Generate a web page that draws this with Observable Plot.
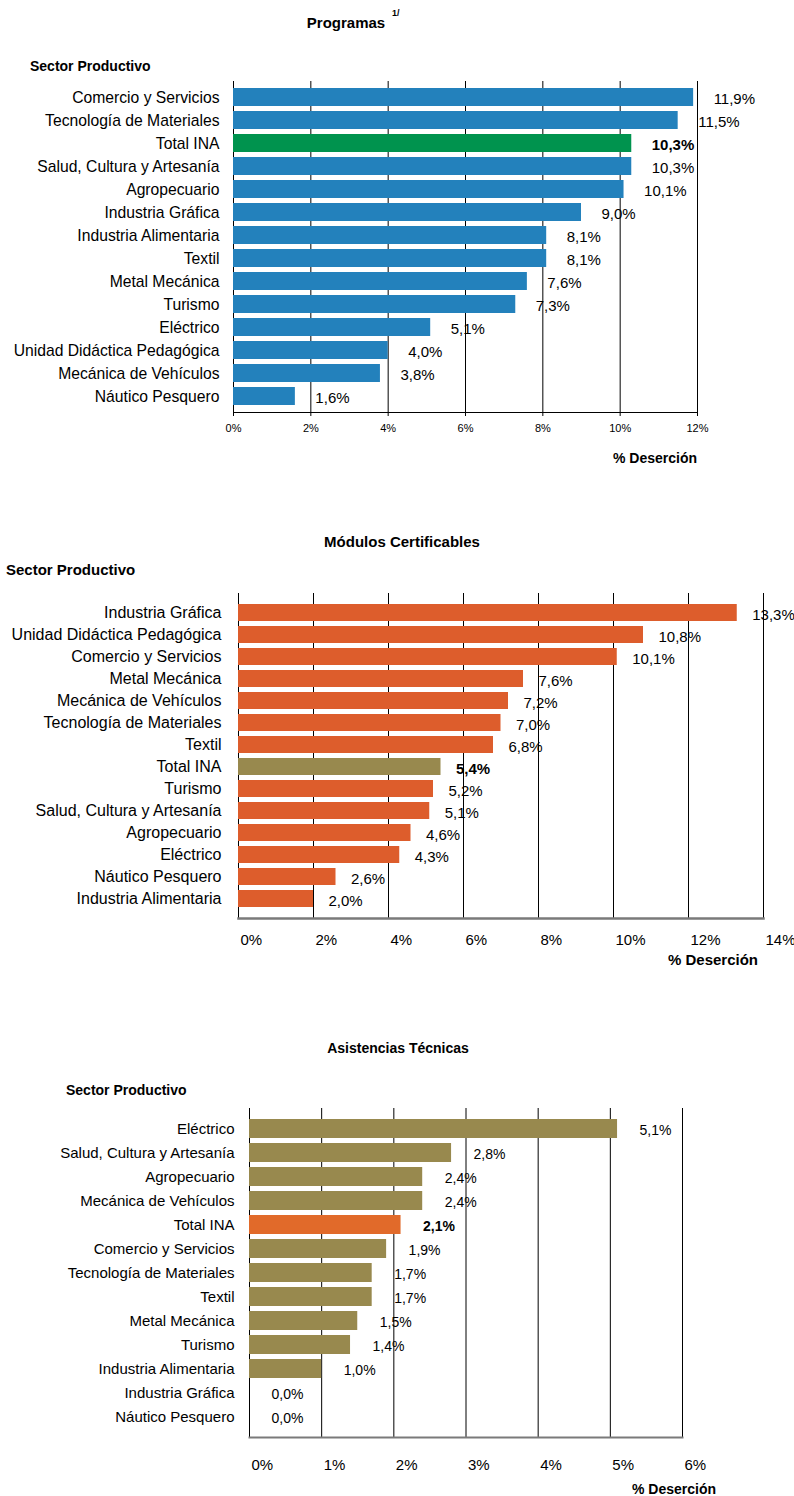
<!DOCTYPE html>
<html>
<head>
<meta charset="utf-8">
<script src="https://cdn.jsdelivr.net/npm/d3@7"></script>
<script src="https://cdn.jsdelivr.net/npm/@observablehq/plot@0.6"></script>
<style>
  html, body { margin: 0; padding: 0; background: #ffffff; }
  #page { position: relative; width: 794px; height: 1496px; font-family: "Liberation Sans", Arial, Helvetica, sans-serif; color: #000; }
  .t { position: absolute; white-space: nowrap; font-weight: bold; line-height: 1; }
  .c { transform: translateX(-50%); }
  .r { transform: translateX(-100%); }
  .chart { position: absolute; left: 0; }
  .chart svg { overflow: visible; }
</style>
</head>
<body>
<div id="page"></div>
<script>
// ---------- DATA ----------
const progCats = ["Comercio y Servicios", "Tecnología de Materiales", "Total INA", "Salud, Cultura y Artesanía", "Agropecuario", "Industria Gráfica", "Industria Alimentaria", "Textil", "Metal Mecánica", "Turismo", "Eléctrico", "Unidad Didáctica Pedagógica", "Mecánica de Vehículos", "Náutico Pesquero"];
const progValues = [11.9, 11.5, 10.3, 10.3, 10.1, 9.0, 8.1, 8.1, 7.6, 7.3, 5.1, 4.0, 3.8, 1.6];
const progTicks = [0, 2, 4, 6, 8, 10, 12];

const modCats = ["Industria Gráfica", "Unidad Didáctica Pedagógica", "Comercio y Servicios", "Metal Mecánica", "Mecánica de Vehículos", "Tecnología de Materiales", "Textil", "Total INA", "Turismo", "Salud, Cultura y Artesanía", "Agropecuario", "Eléctrico", "Náutico Pesquero", "Industria Alimentaria"];
const modValues = [13.3, 10.8, 10.1, 7.6, 7.2, 7.0, 6.8, 5.4, 5.2, 5.1, 4.6, 4.3, 2.6, 2.0];
const modTicks = [0, 2, 4, 6, 8, 10, 12, 14];

const asisCats = ["Eléctrico", "Salud, Cultura y Artesanía", "Agropecuario", "Mecánica de Vehículos", "Total INA", "Comercio y Servicios", "Tecnología de Materiales", "Textil", "Metal Mecánica", "Turismo", "Industria Alimentaria", "Industria Gráfica", "Náutico Pesquero"];
const asisValues = [5.1, 2.8, 2.4, 2.4, 2.1, 1.9, 1.7, 1.7, 1.5, 1.4, 1.0, 0.0, 0.0];
const asisTicks = [0, 1, 2, 3, 4, 5, 6];

const totalName = "Total INA";
// ---------- RENDER ----------
const page = document.getElementById("page");
const FONT = '"Liberation Sans", Arial, Helvetica, sans-serif';
const fmt = v => v.toFixed(1).replace(".", ",") + "%";

function addText(txt, x, y, size, cls) {
  const d = document.createElement("div");
  d.className = "t " + (cls || "");
  d.textContent = txt;
  d.style.left = x + "px";
  d.style.top = (y - size / 2) + "px";
  d.style.fontSize = size + "px";
  page.appendChild(d);
  return d;
}

function makeChart(cats, values, o) {
  const data = cats.map((c, i) => ({cat: c, value: values[i]}));
  const plot = Plot.plot({
    width: 794,
    height: o.height,
    marginLeft: o.left,
    marginRight: 794 - o.right,
    marginTop: 10,
    marginBottom: o.height - 10 - (o.bottom - o.top),
    x: {domain: [0, o.max], axis: null},
    y: {domain: cats, padding: o.padding, axis: null, label: null},
    style: {fontFamily: FONT, background: "transparent", color: "#000"},
    marks: [
      Plot.gridX(o.ticks, {stroke: "#000", strokeOpacity: 1, strokeWidth: 1}),
      Plot.barX(data, {x: "value", y: "cat", fill: d => d.cat === totalName ? o.total : o.color}),
      Plot.frame({anchor: "bottom", stroke: o.axisStroke, strokeWidth: o.axisWidth}),
      Plot.axisX(o.ticks, {
        tickFormat: d => d + "%", tickSize: o.tickSize, tickPadding: o.tickPadding,
        fontSize: o.tickFont, textAnchor: o.tickAnchor, dx: o.tickDx, label: null, stroke: "#000"
      }),
      Plot.axisY({tickSize: 0, tickPadding: o.labelPad, fontSize: o.catFont, label: null}),
      Plot.text(data.filter(d => d.cat !== totalName), {
        x: "value", y: "cat", text: d => fmt(d.value), dx: o.valDx, dy: 2,
        textAnchor: "start", fontSize: o.valFont
      }),
      Plot.text(data.filter(d => d.cat === totalName), {
        x: "value", y: "cat", text: d => fmt(d.value), dx: o.valDx, dy: 2,
        textAnchor: "start", fontSize: o.valFont, fontWeight: "bold"
      })
    ]
  });
  const wrap = document.createElement("div");
  wrap.className = "chart";
  wrap.style.top = (o.top - 10) + "px";
  wrap.appendChild(plot);
  page.appendChild(wrap);
}

// Chart 1: Programas
addText("Programas", 346, 22, 15, "c");
addText("1/", 392, 13, 9, "");
addText("Sector Productivo", 30, 66, 14, "");
makeChart(progCats, progValues, {
  top: 81, bottom: 412, left: 233, right: 697, height: 381, max: 12, padding: 0.22,
  ticks: progTicks, color: "#2381BC", total: "#00934E", axisStroke: "#000", axisWidth: 1,
  tickSize: 4, tickPadding: 8, tickFont: 11, tickAnchor: "middle", tickDx: 0,
  labelPad: 14, catFont: 15.7, valDx: 20, valFont: 15
});
addText("% Deserción", 697, 458, 14, "r");

// Chart 2: Módulos Certificables
addText("Módulos Certificables", 402, 541, 15, "c");
addText("Sector Productivo", 6, 569, 15, "");
makeChart(modCats, modValues, {
  top: 593, bottom: 918, left: 238, right: 763, height: 375, max: 14, padding: 0.25,
  ticks: modTicks, color: "#DD5D2C", total: "#98894E", axisStroke: "#7a7a7a", axisWidth: 2.5,
  tickSize: 0, tickPadding: 16, tickFont: 15, tickAnchor: "start", tickDx: 2,
  labelPad: 17, catFont: 16, valDx: 15, valFont: 15
});
addText("% Deserción", 758, 959, 15, "r");

// Chart 3: Asistencias Técnicas
addText("Asistencias Técnicas", 398, 1048, 14, "c");
addText("Sector Productivo", 66, 1090, 14, "");
makeChart(asisCats, asisValues, {
  top: 1108, bottom: 1437, left: 249, right: 682, height: 384, max: 6, padding: 0.22,
  ticks: asisTicks, color: "#98894E", total: "#E16A2A", axisStroke: "#7a7a7a", axisWidth: 2,
  tickSize: 0, tickPadding: 22, tickFont: 15, tickAnchor: "start", tickDx: 2,
  labelPad: 15, catFont: 15, valDx: 22, valFont: 14
});
addText("% Deserción", 716, 1489, 14, "r");
</script>
</body>
</html>
